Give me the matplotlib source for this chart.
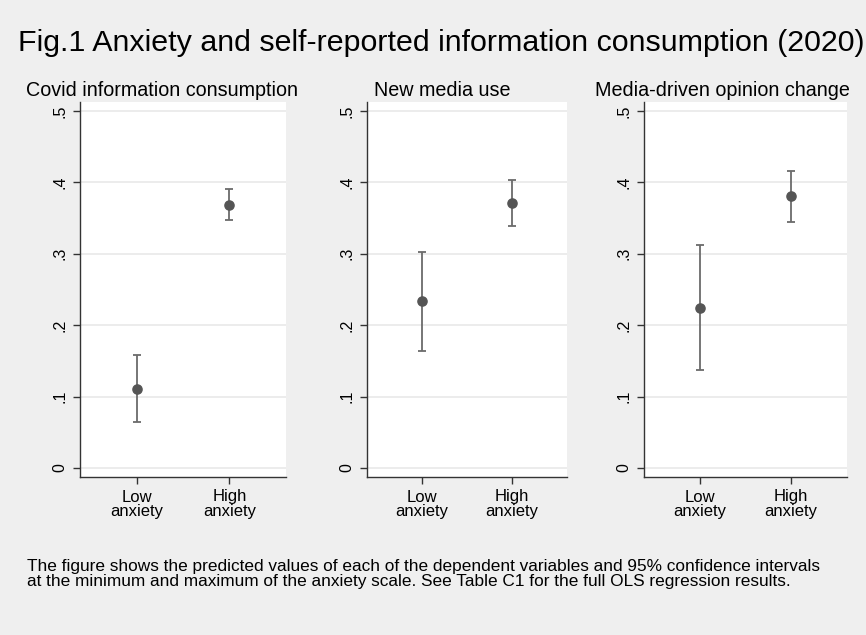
import matplotlib
matplotlib.use("Agg")
import matplotlib.pyplot as plt

# Predicted values with 95% confidence bounds at min / max of the anxiety scale
categories = ["Low\nanxiety", "High\nanxiety"]
panel_titles = ["Covid information consumption", "New media use", "Media-driven opinion change"]
estimates = [
    [0.1106, 0.369],
    [0.2335, 0.3707],
    [0.224, 0.3805],
]
ci_lower = [
    [0.064, 0.348],
    [0.164, 0.339],
    [0.1377, 0.345],
]
ci_upper = [
    [0.1587, 0.391],
    [0.303, 0.403],
    [0.312, 0.4164],
]
ytick_values = [0, 0.1, 0.2, 0.3, 0.4, 0.5]
ytick_labels = ["0", ".1", ".2", ".3", ".4", ".5"]

plt.rcParams["font.family"] = ["Liberation Sans", "DejaVu Sans"]

W, H = 866, 635
bg = "#efefef"
fig = plt.figure(figsize=(W / 100, H / 100), dpi=100, facecolor=bg)

# axes boxes in pixels: (left, right)
boxes = [(80, 286), (367, 567), (644, 847)]
top_px, bottom_px = 102, 477
title_centers = [162, 442, 722]

for i, (l, r) in enumerate(boxes):
    ax = fig.add_axes([l / W, 1 - bottom_px / H, (r - l) / W, (bottom_px - top_px) / H])
    ax.set_facecolor("white")
    x = [1, 2]
    yerr = [[e - lo for e, lo in zip(estimates[i], ci_lower[i])],
            [hi - e for e, hi in zip(estimates[i], ci_upper[i])]]
    ax.errorbar(x, estimates[i], yerr=yerr, fmt="none", ecolor="#6b6b6b",
                elinewidth=1.3, capsize=3.2, capthick=1.3, zorder=3)
    ax.plot(x, estimates[i], "o", color="#555555", markersize=6.6, zorder=4)
    ax.set_xlim(0.39, 2.61)
    ax.set_ylim(-0.0126, 0.5126)
    ax.set_yticks(ytick_values)
    ax.set_yticklabels(ytick_labels, rotation=90, va="center", fontsize=11.5)
    ax.set_xticks(x)
    ax.set_xticklabels(categories, fontsize=12, linespacing=0.95)
    ax.grid(axis="y", color="#eaeaea", linewidth=1.3)
    ax.set_axisbelow(True)
    for s in ["top", "right"]:
        ax.spines[s].set_visible(False)
    for s in ["left", "bottom"]:
        ax.spines[s].set_color("#333333")
        ax.spines[s].set_linewidth(1.0)
    ax.tick_params(axis="both", length=5, width=1, color="#333333", pad=4)
    fig.text(title_centers[i] / W, 1 - 96 / H, panel_titles[i], ha="center",
             va="baseline", fontsize=14.2)

fig.text(18 / W, 1 - 51 / H, "Fig.1 Anxiety and self-reported information consumption (2020)",
         ha="left", va="baseline", fontsize=21.9)

note_lines = [
    "The figure shows the predicted values of each of the dependent variables and 95% confidence intervals",
    "at the minimum and maximum of the anxiety scale. See Table C1 for the full OLS regression results.",
]
for line, base in zip(note_lines, [571, 586]):
    fig.text(27 / W, 1 - base / H, line, ha="left", va="baseline", fontsize=12.4)

fig.savefig("out.png", dpi=100, facecolor=bg)
